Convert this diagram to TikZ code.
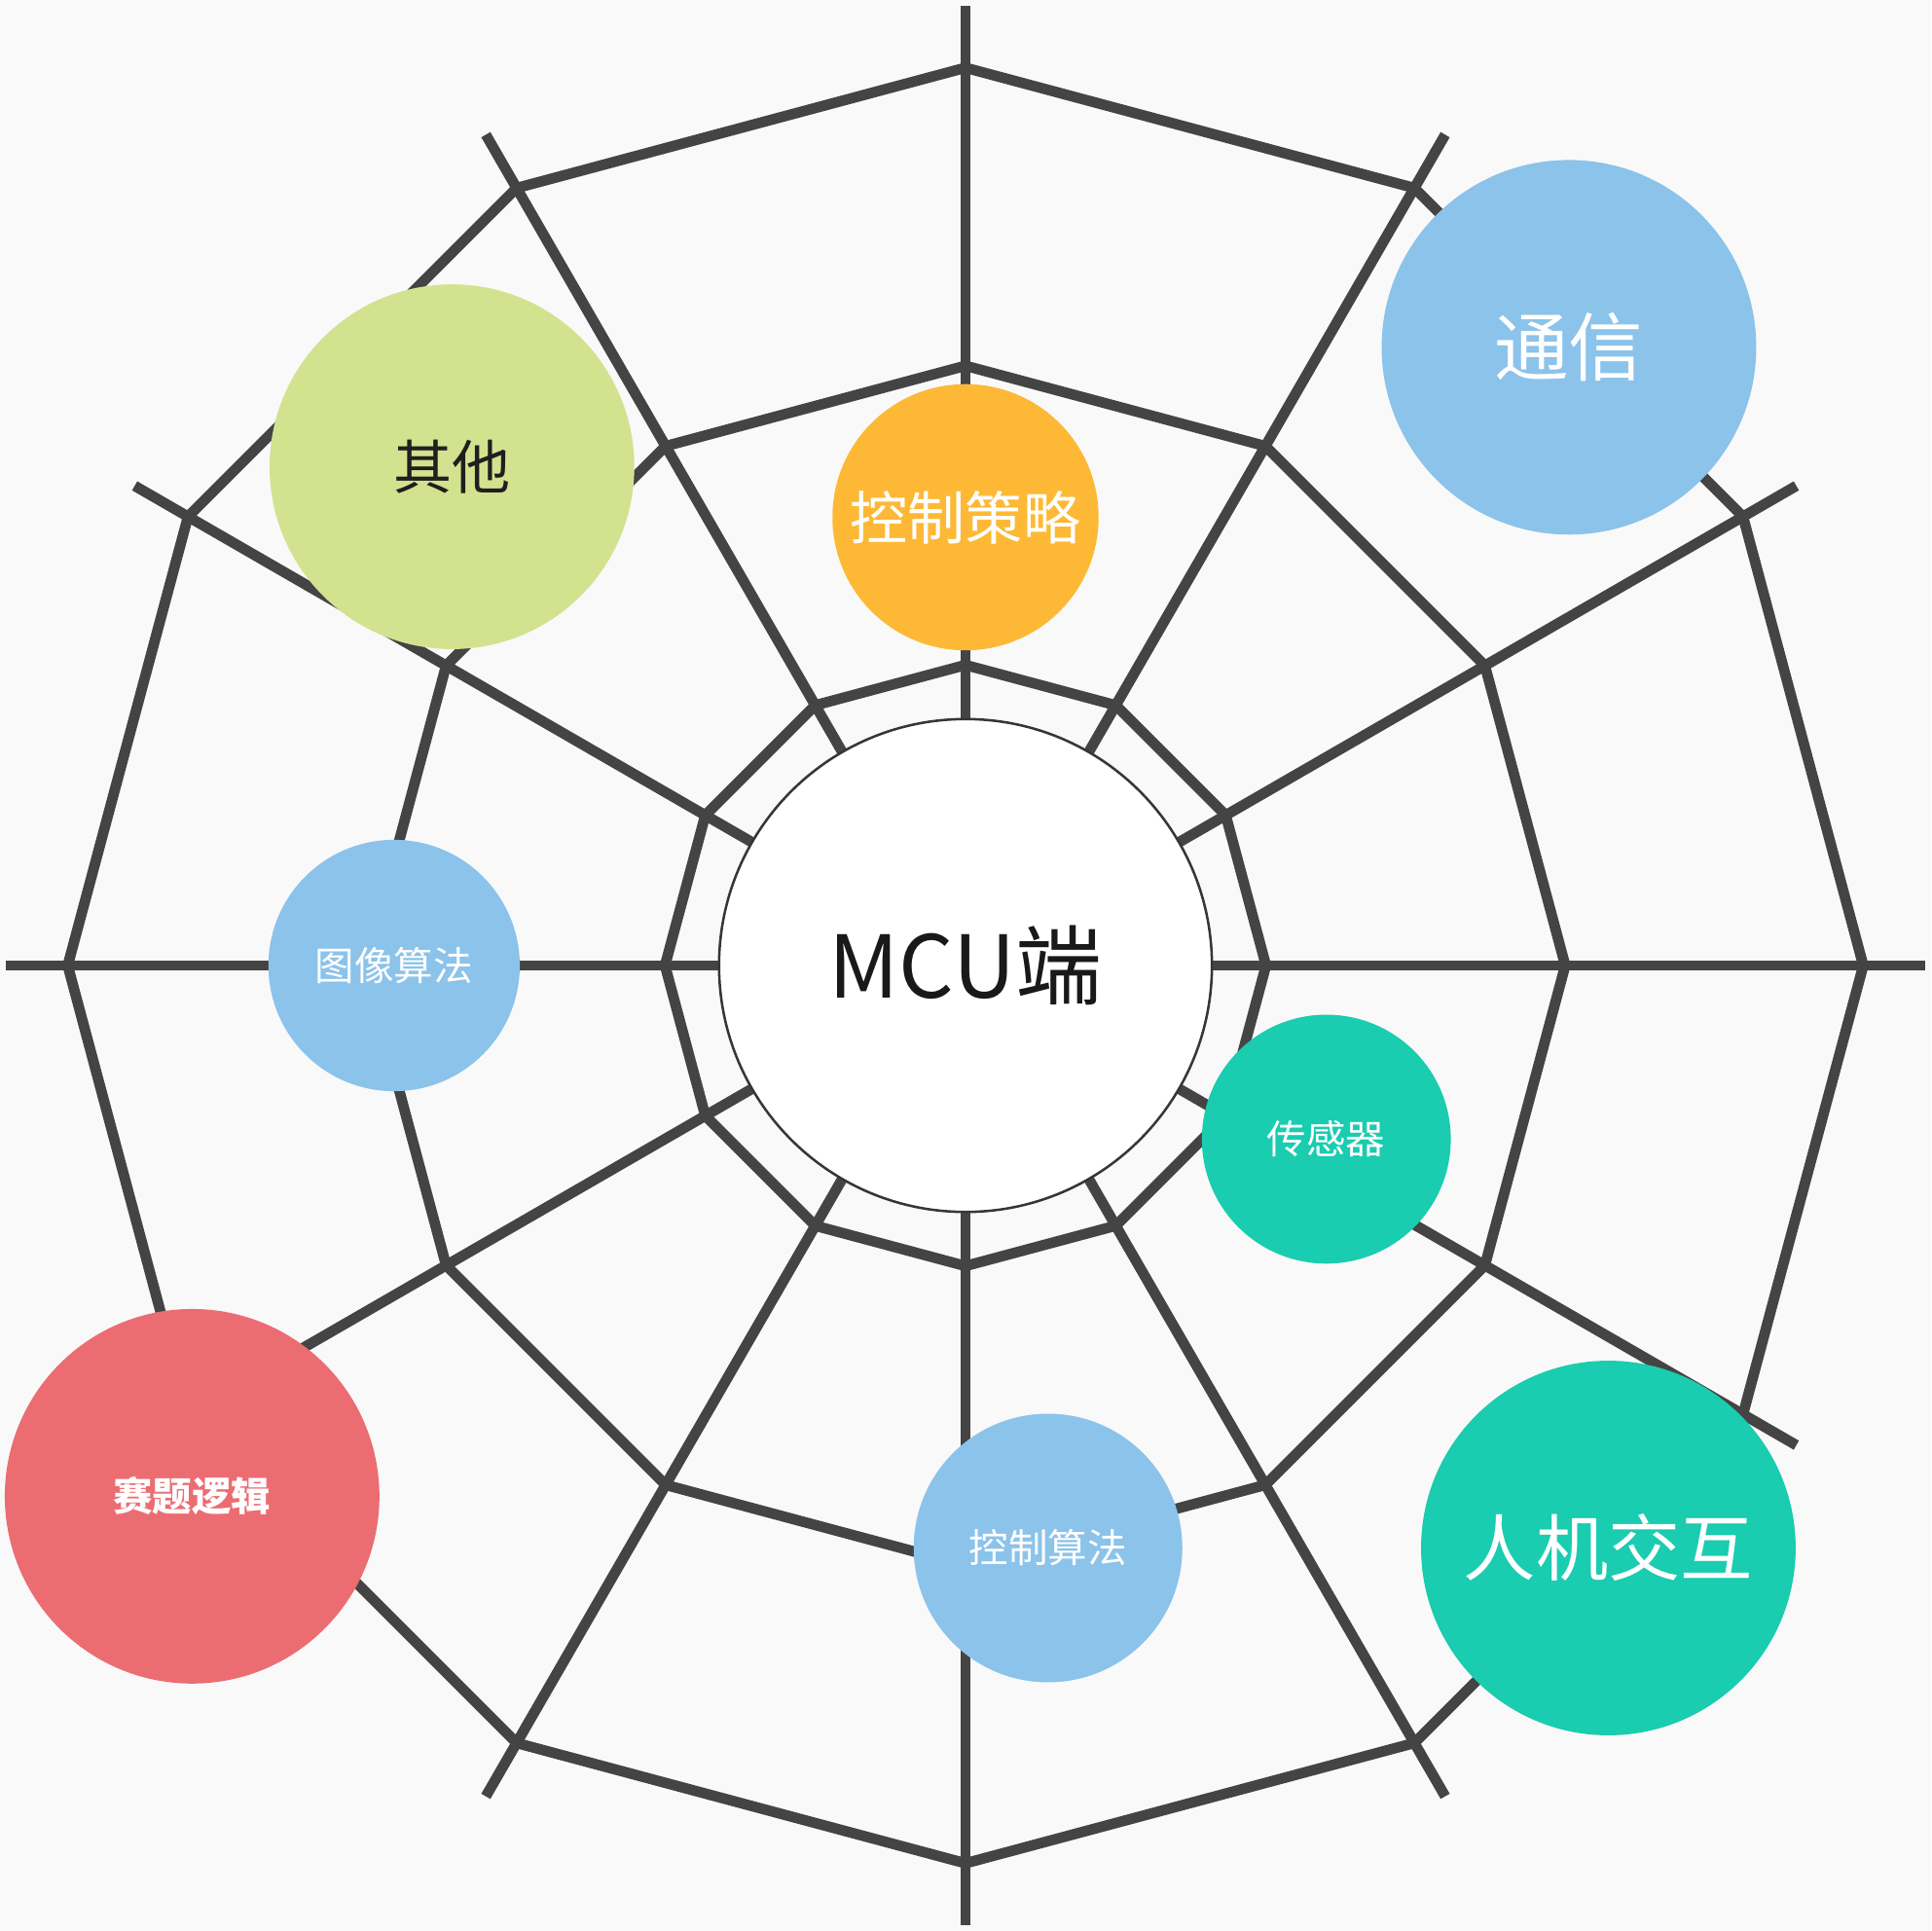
\documentclass[tikz,border=0pt]{standalone}
\usepackage{fontspec}
\setmainfont{Noto Sans CJK SC}
\usetikzlibrary{positioning}
\definecolor{bgcol}{HTML}{F9F9F9}
\definecolor{webcol}{HTML}{444444}
\definecolor{skyblue}{HTML}{8BC3EA}
\definecolor{amber}{HTML}{FDB935}
\definecolor{lime}{HTML}{D3E28F}
\definecolor{teal}{HTML}{1ACCB0}
\definecolor{coral}{HTML}{EB6D72}
\begin{document}
\begin{tikzpicture}[x=0.01cm,y=0.01cm,
    web/.style={draw=webcol, line width=0.085cm},
    bubble/.style={circle, inner sep=0pt, text=white}]
  \fill[bgcol] (-784,-784) rectangle (784,784);

  % spokes and rings
  \foreach \a in {0,30,...,330}
    \draw[web] (0,0) -- (\a:779);
  \foreach \r in {244,487,729}
    \draw[web] (0:\r) \foreach \a in {30,60,...,330} { -- (\a:\r) } -- cycle;

  \node[circle, fill=white, draw=webcol!80!black, line width=0.02cm,
        minimum size=4cm, text=black!90] (mcu) at (0,0) {\fontsize{20}{22}\selectfont MCU端};

  \node[bubble, fill=amber, minimum size=2.16cm] (strat) at (0,364) {\fontsize{13.3}{15}\selectfont 控制策略};
  \node[bubble, fill=lime, minimum size=2.96cm, text=black!88] (other) at (-417,405) {\fontsize{13.5}{15}\selectfont 其他};
  \node[bubble, fill=skyblue, minimum size=3.04cm] (comm) at (490,502) {\fontsize{17.2}{19}\selectfont 通信};
  \node[bubble, fill=skyblue, minimum size=2.04cm] (vision) at (-464,0) {\fontsize{9.1}{11}\selectfont 图像算法};
  \node[bubble, fill=teal, minimum size=2.02cm] (sensor) at (293,-141) {\fontsize{9.1}{11}\selectfont 传感器};
  \node[bubble, fill=coral, minimum size=3.04cm] (logic) at (-628,-431) {\fontsize{9.1}{11}\selectfont\bfseries 赛题逻辑};
  \node[bubble, fill=skyblue, minimum size=2.18cm] (ctrl) at (67,-473) {\fontsize{9.1}{11}\selectfont 控制算法};
  \node[bubble, fill=teal, minimum size=3.04cm] (hmi) at (522,-473) {\fontsize{16.7}{18}\selectfont 人机交互};
\end{tikzpicture}
\end{document}
